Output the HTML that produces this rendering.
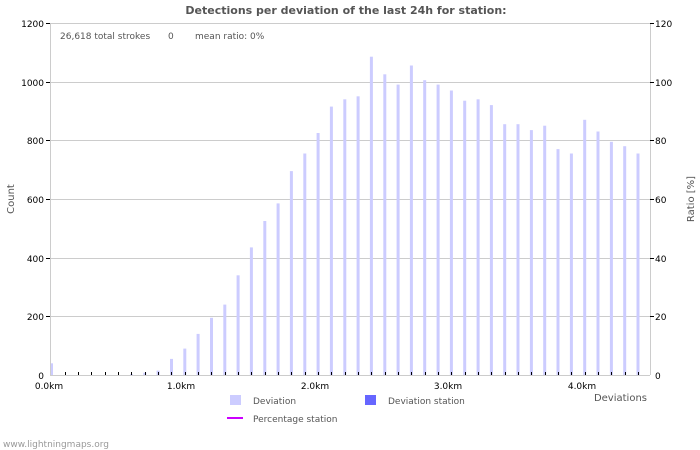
<!DOCTYPE html>
<html><head><meta charset="utf-8"><style>body{margin:0;background:#fff}svg{display:block;font-family:"DejaVu Sans","Liberation Sans",sans-serif}</style></head>
<body>
<svg width="700" height="450" xmlns="http://www.w3.org/2000/svg">
<rect width="700" height="450" fill="#fff"/>
<text x="346" y="14" text-anchor="middle" font-size="11" font-weight="bold" fill="#555">Detections per deviation of the last 24h for station:</text>
<g stroke="#ccc" stroke-width="1">
<line x1="50" y1="23.5" x2="650" y2="23.5"/><line x1="50" y1="82.5" x2="650" y2="82.5"/><line x1="50" y1="140.5" x2="650" y2="140.5"/><line x1="50" y1="199.5" x2="650" y2="199.5"/><line x1="50" y1="258.5" x2="650" y2="258.5"/><line x1="50" y1="316.5" x2="650" y2="316.5"/>
<line x1="50.5" y1="23" x2="50.5" y2="375"/><line x1="650.5" y1="23" x2="650.5" y2="375"/><line x1="50" y1="375.5" x2="650" y2="375.5"/>
</g>
<g id="bars" fill="#ccccff"></g>
<g id="ticks" stroke="#000" stroke-width="1"></g>
<g font-size="9" fill="#000" text-anchor="end">
<text x="44" y="27">1200</text><text x="44" y="86">1000</text><text x="44" y="144">800</text><text x="44" y="203">600</text><text x="44" y="262">400</text><text x="44" y="320">200</text><text x="44" y="379">0</text>
</g>
<g font-size="9" fill="#000" text-anchor="start">
<text x="655" y="27">120</text><text x="655" y="86">100</text><text x="655" y="144">80</text><text x="655" y="203">60</text><text x="655" y="262">40</text><text x="655" y="320">20</text><text x="655" y="379">0</text>
</g>
<g stroke="#000"><line x1="650" y1="82.5" x2="654" y2="82.5"/><line x1="650" y1="140.5" x2="654" y2="140.5"/><line x1="650" y1="199.5" x2="654" y2="199.5"/><line x1="650" y1="258.5" x2="654" y2="258.5"/><line x1="650" y1="316.5" x2="654" y2="316.5"/><line x1="650" y1="23.5" x2="654" y2="23.5"/>
<line x1="46" y1="82.5" x2="50" y2="82.5"/><line x1="46" y1="140.5" x2="50" y2="140.5"/><line x1="46" y1="199.5" x2="50" y2="199.5"/><line x1="46" y1="258.5" x2="50" y2="258.5"/><line x1="46" y1="316.5" x2="50" y2="316.5"/><line x1="46" y1="23.5" x2="50" y2="23.5"/></g>
<g font-size="9" fill="#000" text-anchor="middle">
<text x="49" y="389">0.0km</text><text x="181" y="389">1.0km</text><text x="315" y="389">2.0km</text><text x="448" y="389">3.0km</text><text x="582" y="389">4.0km</text>
</g>
<text x="60" y="39" font-size="9" fill="#555">26,618 total strokes</text>
<text x="168" y="39" font-size="9" fill="#555">0</text>
<text x="195" y="39" font-size="9" fill="#555">mean ratio: 0%</text>
<text x="14" y="199" font-size="10" fill="#555" text-anchor="middle" transform="rotate(-90 14 199)">Count</text>
<text x="694" y="199" font-size="10" fill="#555" text-anchor="middle" transform="rotate(-90 694 199)">Ratio [%]</text>
<text x="647" y="401" font-size="10" fill="#555" text-anchor="end">Deviations</text>
<rect x="230" y="395" width="11" height="10" fill="#ccccff"/>
<text x="253" y="404" font-size="9" fill="#555">Deviation</text>
<rect x="365" y="395" width="11" height="10" fill="#6666ff"/>
<text x="388" y="404" font-size="9" fill="#555">Deviation station</text>
<line x1="227" y1="418" x2="243" y2="418" stroke="#cc00ff" stroke-width="2"/>
<text x="253" y="422" font-size="9" fill="#555">Percentage station</text>
<text x="3" y="447" font-size="9" fill="#999">www.lightningmaps.org</text>
</svg>
<script>
var v=[40,0,0,0,0,0,3,8,15,55,90,140,195,240,340,435,525,585,695,755,825,915,940,950,1085,1025,990,1055,1005,990,970,935,940,920,855,855,835,850,770,755,870,830,795,780,755];
var b=document.getElementById('bars'),t=document.getElementById('ticks'),ns='http://www.w3.org/2000/svg';
v.forEach(function(d,i){var x=51.5+13.33*i;var h=d*352/1200;
if(h>0){var r=document.createElementNS(ns,'rect');r.setAttribute('x',(i==0?51:x-1.5).toFixed(1));r.setAttribute('y',(375-h).toFixed(1));r.setAttribute('width',i==0?2:3);r.setAttribute('height',h.toFixed(1));b.appendChild(r);}
if(i>0){var l=document.createElementNS(ns,'line');var xx=Math.round(x)+0.5;l.setAttribute('x1',xx);l.setAttribute('x2',xx);l.setAttribute('y1',372);l.setAttribute('y2',375);t.appendChild(l);}
});
</script>
</body></html>
